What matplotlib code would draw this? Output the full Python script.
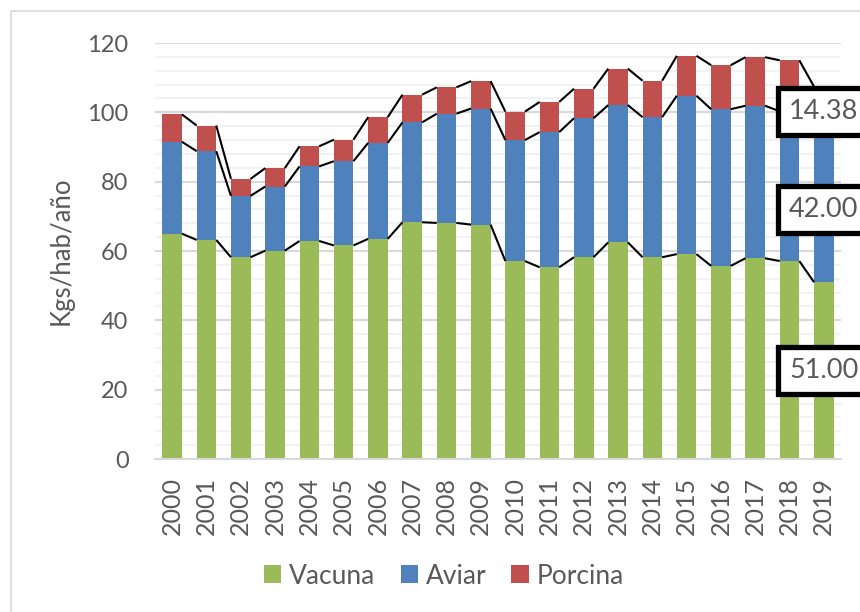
import numpy as np
import matplotlib
matplotlib.use("Agg")
import matplotlib.pyplot as plt
from matplotlib.patches import Rectangle

plt.rcParams['font.family'] = ['Lato', 'DejaVu Sans']

years = [str(y) for y in range(2000, 2020)]
vacuna = [65.0, 63.2, 58.2, 60.1, 62.9, 61.6, 63.5, 68.3, 68.1, 67.6,
          57.1, 55.3, 58.2, 62.5, 58.2, 59.1, 55.7, 57.9, 57.1, 51.0]
aviar = [26.5, 25.6, 17.7, 18.5, 21.5, 24.3, 27.7, 28.8, 31.5, 33.5,
         34.9, 39.0, 40.1, 39.6, 40.4, 45.7, 45.2, 44.0, 43.2, 42.0]
porcina = [7.9, 7.4, 4.9, 5.3, 5.8, 6.2, 7.4, 8.0, 7.6, 7.9,
           8.2, 8.7, 8.5, 10.5, 10.5, 11.5, 12.7, 14.0, 14.7, 14.38]

series = [("Vacuna", vacuna, "#9BBB59"),
          ("Aviar", aviar, "#4F81BD"),
          ("Porcina", porcina, "#C0504D")]

txt = "#595959"
fig = plt.figure(figsize=(8.6, 6.12), dpi=100)
ax = fig.add_axes([155/860, 1-459/612, (841-155)/860, (459-43)/612])

x = np.arange(len(years))
w = 0.57
bottom = np.zeros(len(years))
tops = []
for name, vals, col in series:
    vals = np.array(vals)
    ax.bar(x, vals, w, bottom=bottom, color=col, label=name, zorder=2)
    bottom = bottom + vals
    tops.append(bottom.copy())

# series lines between bars
for t in tops:
    for i in range(len(x) - 1):
        ax.plot([x[i] + w/2, x[i+1] - w/2], [t[i], t[i+1]],
                color="black", lw=1.5, zorder=3, solid_capstyle="butt")

# data labels for last year
last = len(x) - 1
base = 0
for name, vals, col in series:
    v = vals[last]
    ax.text(x[last], base + v/2, "%.2f" % v, ha="center", va="center",
            fontsize=19.5, color=txt, zorder=5, clip_on=False,
            bbox=dict(boxstyle="square,pad=0.4", fc="white", ec="black", lw=3.8))
    base += v

ax.set_xlim(-0.5, len(x) - 0.5)
ax.set_ylim(0, 120)
ax.set_yticks(range(0, 121, 20))
ax.set_yticks(range(0, 121, 4), minor=True)
ax.grid(axis="y", which="major", color="#D9D9D9", lw=1.5, zorder=0)
ax.grid(axis="y", which="minor", color="#F2F2F2", lw=1.5, zorder=0)
ax.set_axisbelow(True)
for s in ["top", "right", "left"]:
    ax.spines[s].set_visible(False)
ax.spines["bottom"].set_color("#D9D9D9")
ax.spines["bottom"].set_linewidth(1.5)

ax.set_xticks(x)
ax.set_xticklabels(years, rotation=90)
ax.tick_params(axis="x", length=0, pad=13, labelsize=18, labelcolor=txt)
ax.tick_params(axis="y", which="both", length=0, pad=19, labelsize=17, labelcolor=txt)
ax.set_ylabel("Kgs/hab/año", fontsize=18.5, color=txt, labelpad=10)

fig.legend(loc="center", bbox_to_anchor=(444/860, 1-576/612), ncol=3,
           frameon=False, fontsize=19, handlelength=0.65, handleheight=0.65,
           handletextpad=0.3, columnspacing=0.95, labelcolor=txt)

# chart area border
fig.patches.append(Rectangle((11/860, -0.1), 1.2, 1-11/612+0.1,
                             transform=fig.transFigure, fill=False,
                             ec="#D9D9D9", lw=1.2))

fig.savefig("out.png", dpi=100)
